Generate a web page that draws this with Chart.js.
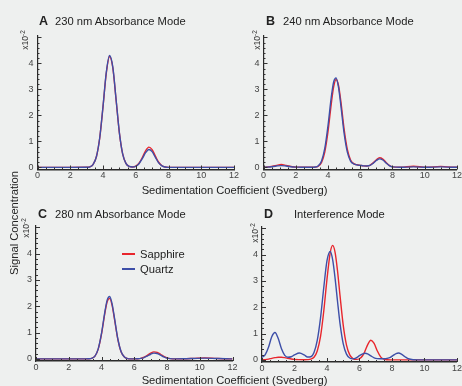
<!DOCTYPE html>
<html>
<head>
<meta charset="utf-8">
<script src="https://cdn.jsdelivr.net/npm/chart.js@4.4.1/dist/chart.umd.min.js"></script>
<style>
  html, body { margin: 0; padding: 0; }
  body {
    width: 462px; height: 386px; position: relative; overflow: hidden;
    background: #eef0ef; color: #222;
    font-family: "Liberation Sans", Arial, sans-serif;
  }
  canvas { position: absolute; }
  .txt { position: absolute; white-space: nowrap; font-size: 11.2px; line-height: 14px; }
  .letter { position: absolute; font-weight: bold; font-size: 12.5px; line-height: 14px; }
  .mult {
    position: absolute; width: 30px; height: 12px; line-height: 12px;
    font-size: 8.5px; color: #333; text-align: center; transform: rotate(-90deg);
  }
  .mult span { position: relative; top: -3px; font-size: 6.5px; }
  .ylab {
    position: absolute; width: 140px; height: 14px; line-height: 14px; text-align: center;
    font-size: 11.2px; transform: rotate(-90deg);
  }
  .key { position: absolute; height: 1.5px; width: 13px; }
</style>
</head>
<body>
<canvas id="panelA" width="242" height="162" style="left:0px;top:26px"></canvas>
<canvas id="panelB" width="223" height="162" style="left:240px;top:26px"></canvas>
<canvas id="panelC" width="242" height="162" style="left:0px;top:216px"></canvas>
<canvas id="panelD" width="223" height="162" style="left:240px;top:216px"></canvas>

<div class="letter" style="left:39px;top:14px">A</div>
<div class="txt" style="left:55px;top:14px">230 nm Absorbance Mode</div>
<div class="letter" style="left:266px;top:14px">B</div>
<div class="txt" style="left:283px;top:14px">240 nm Absorbance Mode</div>
<div class="letter" style="left:38px;top:207px">C</div>
<div class="txt" style="left:55px;top:207px">280 nm Absorbance Mode</div>
<div class="letter" style="left:264px;top:207px">D</div>
<div class="txt" style="left:294px;top:207px">Interference Mode</div>

<div class="mult" style="left:10px;top:34px">x10<span>-2</span></div>
<div class="mult" style="left:242px;top:34px">x10<span>-2</span></div>
<div class="mult" style="left:11px;top:222px">x10<span>-2</span></div>
<div class="mult" style="left:240px;top:227px">x10<span>-2</span></div>

<div class="txt" style="left:0;width:469px;text-align:center;top:183px">Sedimentation Coefficient (Svedberg)</div>
<div class="txt" style="left:0;width:469px;text-align:center;top:373px">Sedimentation Coefficient (Svedberg)</div>
<div class="ylab" style="left:-56px;top:216px">Signal Concentration</div>

<div class="key" style="left:122px;top:253px;background:#e8262d"></div>
<div class="txt" style="left:140px;top:247px">Sapphire</div>
<div class="key" style="left:122px;top:268px;background:#3d4fa8"></div>
<div class="txt" style="left:140px;top:262px">Quartz</div>

<script>
// values in units of 10^-2
const xA = [0, 1, 2, 3, 3.2, 3.4, 3.6, 3.8, 4.0, 4.2, 4.4, 4.6, 4.8, 5.0, 5.2, 5.4, 5.6, 5.8, 6.0, 6.2, 6.4, 6.6, 6.8, 7.0, 7.2, 7.4, 7.6, 7.8, 8.0, 9, 10, 11, 12];
const quartzA = [0, 0, 0, 0.004, 0.025, 0.12, 0.42, 1.14, 2.34, 3.65, 4.30, 3.85, 2.61, 1.34, 0.52, 0.155, 0.037, 0.016, 0.044, 0.144, 0.336, 0.566, 0.69, 0.605, 0.383, 0.175, 0.058, 0.014, 0.002, 0, 0, 0, 0];
const sapphireA = [0, 0, 0, 0.004, 0.025, 0.12, 0.42, 1.13, 2.32, 3.61, 4.26, 3.82, 2.59, 1.33, 0.52, 0.155, 0.037, 0.017, 0.05, 0.162, 0.38, 0.64, 0.78, 0.683, 0.433, 0.198, 0.065, 0.015, 0.002, 0, 0, 0, 0];

const xB = [0, 0.4, 0.8, 1.1, 1.4, 1.8, 2.2, 2.6, 3.0, 3.2, 3.4, 3.6, 3.8, 4.0, 4.2, 4.35, 4.5, 4.65, 4.8, 5.0, 5.2, 5.4, 5.6, 5.8, 6.0, 6.2, 6.4, 6.6, 6.8, 7.0, 7.2, 7.4, 7.6, 7.8, 8.0, 8.5, 9.3, 10.1, 11.0, 11.8, 12];
const quartzB = [0.01, 0.018, 0.052, 0.07, 0.052, 0.018, 0.01, 0.005, 0.007, 0.015, 0.066, 0.251, 0.729, 1.606, 2.68, 3.282, 3.439, 3.084, 2.367, 1.304, 0.585, 0.243, 0.131, 0.097, 0.08, 0.06, 0.055, 0.076, 0.157, 0.264, 0.33, 0.284, 0.17, 0.07, 0.02, 0.005, 0.02, 0.005, 0.02, 0.005, 0.005];
const sapphireB = [0.01, 0.024, 0.079, 0.11, 0.079, 0.024, 0.01, 0.005, 0.006, 0.01, 0.047, 0.192, 0.59, 1.373, 2.423, 3.093, 3.379, 3.158, 2.526, 1.472, 0.69, 0.288, 0.145, 0.101, 0.08, 0.06, 0.057, 0.083, 0.175, 0.296, 0.369, 0.319, 0.19, 0.079, 0.023, 0.005, 0.045, 0.005, 0.04, 0.005, 0.005];

const xC = [0, 1, 2, 3, 3.2, 3.4, 3.6, 3.8, 4.0, 4.2, 4.35, 4.5, 4.65, 4.8, 5.0, 5.2, 5.4, 5.6, 5.8, 6.0, 6.2, 6.4, 6.6, 6.8, 7.0, 7.2, 7.4, 7.6, 7.8, 8.0, 8.2, 8.5, 9, 9.6, 10.3, 11, 11.6, 12];
const quartzC = [0, 0, 0, 0, 0.003, 0.022, 0.108, 0.381, 0.966, 1.767, 2.244, 2.371, 2.085, 1.526, 0.756, 0.27, 0.07, 0.013, 0.002, 0.001, 0.005, 0.018, 0.051, 0.109, 0.177, 0.218, 0.204, 0.144, 0.077, 0.031, 0.01, 0.001, 0.004, 0.015, 0.03, 0.015, 0.004, 0];
const sapphireC = [0, 0, 0, 0, 0.003, 0.021, 0.105, 0.37, 0.938, 1.715, 2.178, 2.301, 2.024, 1.481, 0.734, 0.262, 0.068, 0.013, 0.002, 0.001, 0.006, 0.022, 0.063, 0.134, 0.217, 0.268, 0.25, 0.177, 0.095, 0.039, 0.012, 0.001, 0.005, 0.02, 0.04, 0.02, 0.005, 0];

const xD = [0, 0.2, 0.4, 0.6, 0.8, 1.0, 1.2, 1.4, 1.6, 1.8, 2.0, 2.3, 2.6, 2.8, 3.0, 3.2, 3.4, 3.6, 3.8, 4.0, 4.2, 4.35, 4.5, 4.65, 4.8, 5.0, 5.2, 5.4, 5.6, 5.8, 6.0, 6.2, 6.35, 6.5, 6.7, 6.9, 7.1, 7.3, 7.5, 7.7, 7.9, 8.1, 8.25, 8.4, 8.6, 8.8, 9.0, 9.3, 10, 11, 12];
const quartzD = [0.1, 0.2, 0.48, 0.88, 1.04, 0.81, 0.42, 0.17, 0.1, 0.12, 0.19, 0.26, 0.19, 0.11, 0.12, 0.28, 0.74, 1.59, 2.74, 3.77, 4.12, 3.8, 3.09, 2.21, 1.39, 0.61, 0.22, 0.07, 0.04, 0.08, 0.16, 0.23, 0.25, 0.225, 0.15, 0.08, 0.05, 0.045, 0.045, 0.06, 0.1, 0.18, 0.24, 0.26, 0.21, 0.12, 0.045, 0.008, 0, 0, 0];
const sapphireD = [0, 0.01, 0.03, 0.06, 0.085, 0.1, 0.1, 0.085, 0.06, 0.035, 0.02, 0.01, 0.005, 0.01, 0.03, 0.1, 0.34, 0.88, 1.85, 3.07, 4.08, 4.35, 4.08, 3.37, 2.45, 1.31, 0.56, 0.19, 0.05, 0.02, 0.044, 0.167, 0.351, 0.573, 0.748, 0.627, 0.336, 0.116, 0.026, 0.004, 0, 0, 0, 0, 0, 0, 0, 0, 0, 0, 0];

const RED = '#e8262d';
const BLUE = '#3d4fa8';
const tickFont = { family: '"Liberation Sans", Arial, sans-serif', size: 9 };

function pts(xs, ys) {
  return xs.map((x, i) => ({ x: x, y: ys[i] }));
}

// short inward tick marks, long ones at the labelled values
const innerTicks = {
  id: 'innerTicks',
  afterDraw(chart) {
    const ctx = chart.ctx;
    const a = chart.chartArea;
    const x = chart.scales.x, y = chart.scales.y;
    ctx.save();
    ctx.strokeStyle = '#333';
    ctx.lineWidth = 1;
    ctx.beginPath();
    for (let i = 0; i <= 24; i++) {
      const px = Math.round(x.getPixelForValue(i / 2)) + 0.5;
      const len = i % 4 === 0 ? 4 : 2;
      ctx.moveTo(px, a.bottom);
      ctx.lineTo(px, a.bottom - len);
    }
    for (let i = 0; i <= 25; i++) {
      const py = Math.round(y.getPixelForValue(i / 5)) + 0.5;
      const len = i % 5 === 0 ? 4 : 2;
      ctx.moveTo(a.left, py);
      ctx.lineTo(a.left + len, py);
    }
    ctx.stroke();
    ctx.restore();
  }
};

function drawPanel(id, box, xs, sapphire, quartz) {
  new Chart(document.getElementById(id), {
    type: 'line',
    data: {
      datasets: [
        { label: 'Quartz', data: pts(xs, quartz), borderColor: BLUE, borderWidth: 1.4,
          pointRadius: 0, fill: false, cubicInterpolationMode: 'monotone' },
        { label: 'Sapphire', data: pts(xs, sapphire), borderColor: RED, borderWidth: 1.4,
          pointRadius: 0, fill: false, cubicInterpolationMode: 'monotone' }
      ]
    },
    options: {
      responsive: false,
      animation: false,
      events: [],
      layout: { padding: { left: 0, top: box.top, right: box.right, bottom: 0 } },
      plugins: { legend: { display: false }, tooltip: { enabled: false } },
      scales: {
        x: {
          type: 'linear', min: 0, max: 12,
          grid: { display: false, drawTicks: false },
          border: { color: '#2a2a2a', width: 1.6 },
          ticks: { stepSize: 2, padding: 1, color: '#444', font: tickFont, maxRotation: 0 },
          afterFit: s => { s.height = box.xh; }
        },
        y: {
          type: 'linear', min: -0.08, max: 5.05,
          grid: { display: false, drawTicks: false },
          border: { color: '#2a2a2a', width: 1.2 },
          ticks: { stepSize: 1, includeBounds: false, padding: 4, color: '#444', font: tickFont },
          afterBuildTicks: s => { s.ticks = s.ticks.filter(t => Number.isInteger(t.value) && t.value <= 4); },
          afterFit: s => { s.width = box.yw; }
        }
      }
    },
    plugins: [innerTicks]
  });
}

drawPanel('panelA', { top: 10, right: 8, xh: 18.5, yw: 37.5 }, xA, sapphireA, quartzA);
drawPanel('panelB', { top: 10, right: 5, xh: 18.5, yw: 23.5 }, xB, sapphireB, quartzB);
drawPanel('panelC', { top: 10, right: 9.5, xh: 17, yw: 36 }, xC, sapphireC, quartzC);
drawPanel('panelD', { top: 11, right: 5, xh: 16, yw: 22 }, xD, sapphireD, quartzD);
</script>
</body>
</html>
